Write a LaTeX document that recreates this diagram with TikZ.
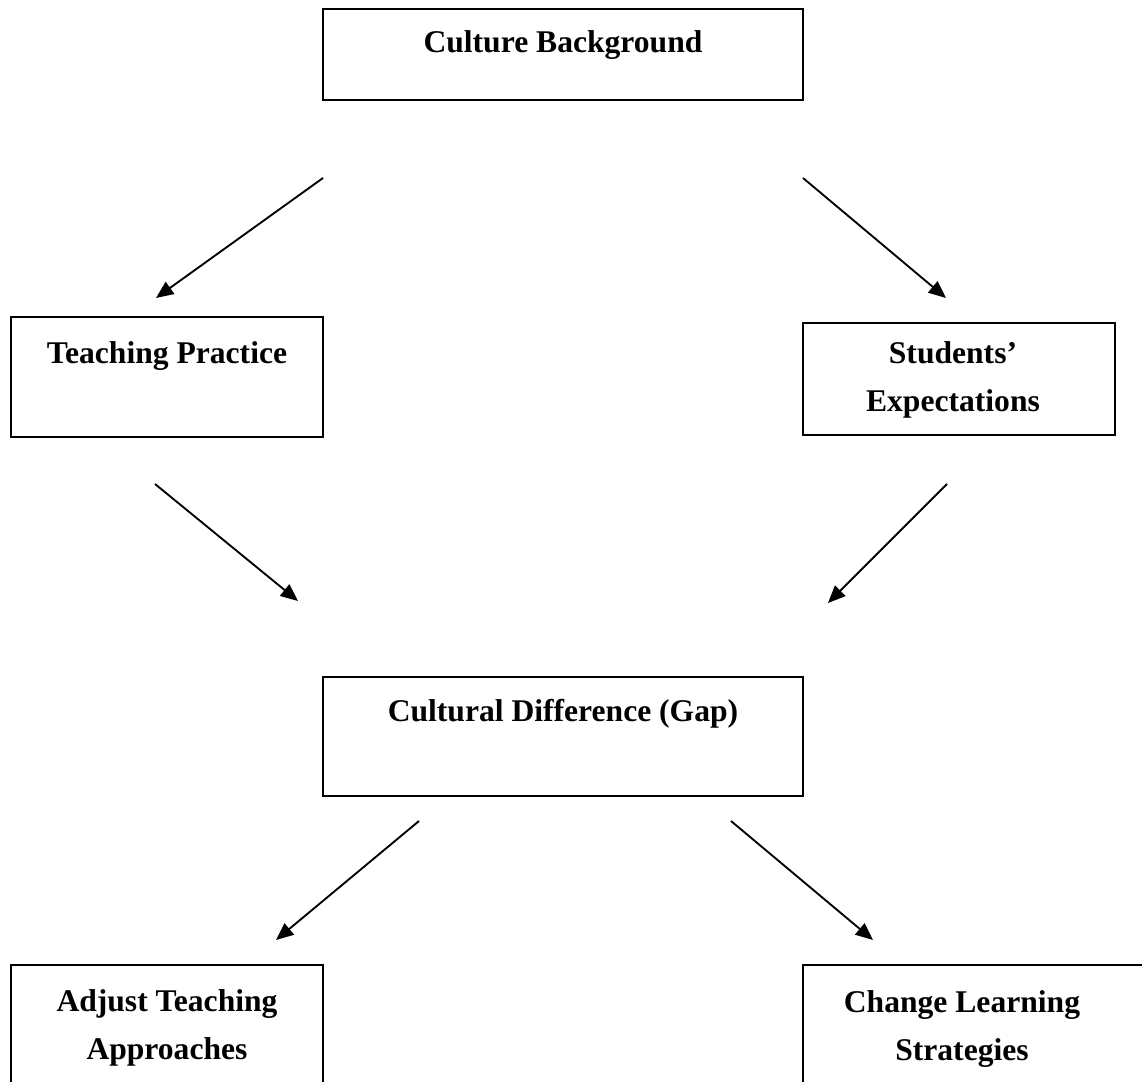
\documentclass[tikz,border=0pt]{standalone}
\usepackage{fontspec}
\setmainfont{Liberation Serif}
\usepackage{tikz}
\usetikzlibrary{arrows.meta, positioning}

\begin{document}
\begin{tikzpicture}[x=0.375pt, y=-0.375pt,
  box/.style={draw, line width=0.85pt, inner sep=0pt},
  lbl/.style={font=\fontsize{11.85}{18}\selectfont\bfseries, align=center},
  arr/.style={line width=0.7pt, -{Triangle[length=6.5pt,width=5.5pt]}}]
\useasboundingbox (0,0) rectangle (1142,1082);
\clip (0,0) rectangle (1142,1082);

% Boxes
\node[box, minimum width=180pt, minimum height=34.1pt] (cb) at (563,54.5) {};
\node[box, minimum width=117pt, minimum height=45pt] (tp) at (167,377) {};
\node[box, minimum width=117pt, minimum height=42pt] (se) at (959,379) {};
\node[box, minimum width=180pt, minimum height=44.6pt] (cd) at (563,736.5) {};
\node[box, minimum width=117pt, minimum height=50.6pt] (aj) at (167,1032.5) {};
\node[box, minimum width=130pt, minimum height=50.6pt] (cl) at (976.5,1032.5) {};

% Labels
\node[lbl, anchor=base] (cbtext) at (563,53) {Culture Background};
\node[lbl, anchor=base] (tptext) at (167,364) {Teaching Practice};
\node[lbl] (setext) at (953,380) {Students'\\Expectations};
\node[lbl, anchor=base] (cdtext) at (563,722) {Cultural Difference (Gap)};
\node[lbl] (ajtext) at (167,1028) {Adjust Teaching\\Approaches};
\node[lbl] (cltext) at (962,1029) {Change Learning\\Strategies};

% Arrow ends
\coordinate (cbL) at (323,178);
\coordinate (cbR) at (803,178);
\coordinate (tpIn) at (156,298);
\coordinate (seIn) at (946,298);
\coordinate (tpOut) at (155,484);
\coordinate (seOut) at (947,484);
\coordinate (cdInL) at (298,601);
\coordinate (cdInR) at (828,603);
\coordinate (cdL) at (419,821);
\coordinate (cdR) at (731,821);
\coordinate (ajIn) at (276,940);
\coordinate (clIn) at (873,940);

% Arrows
\draw[arr] (cbL) -- (tpIn);
\draw[arr] (cbR) -- (seIn);
\draw[arr] (tpOut) -- (cdInL);
\draw[arr] (seOut) -- (cdInR);
\draw[arr] (cdL) -- (ajIn);
\draw[arr] (cdR) -- (clIn);

\end{tikzpicture}
\end{document}
